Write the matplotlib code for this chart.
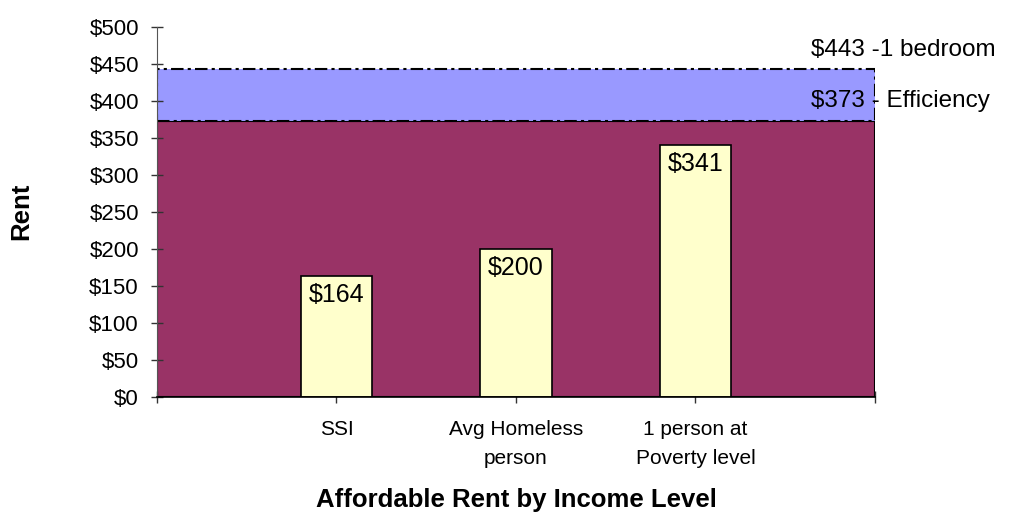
import matplotlib

matplotlib.use('Agg')
import matplotlib.pyplot as plt
from matplotlib.patches import Rectangle

categories = ['SSI', 'Avg Homeless\nperson', '1 person at\nPoverty level']
rents = [164, 200, 341]
efficiency = 373
one_bedroom = 443
yticks = [0, 50, 100, 150, 200, 250, 300, 350, 400, 450, 500]

plt.rcParams['font.family'] = ['Liberation Sans', 'DejaVu Sans']

fig = plt.figure(figsize=(10.18, 5.13), dpi=100)
ax = fig.add_axes([0.1542, 0.2261, 0.7053, 0.7213])

# background areas (efficiency / 1 bedroom rents)
ax.add_patch(Rectangle((0, 0), 4, efficiency, facecolor='#993366',
                       edgecolor='black', linewidth=1.5, zorder=1))
ax.add_patch(Rectangle((0, efficiency), 4, one_bedroom - efficiency,
                       facecolor='#9999FF', edgecolor='black',
                       linewidth=1.5, linestyle=(0, (6, 2, 1.5, 2)), zorder=1))

x = [1, 2, 3]
ax.bar(x, rents, width=0.4, color='#FFFFCC', edgecolor='black',
       linewidth=1.2, zorder=2)
for xi, v in zip(x, rents):
    ax.annotate('${}'.format(v), (xi, v), xytext=(0, -5),
                textcoords='offset points', ha='center', va='top',
                fontsize=18, zorder=3)

ax.text(3.643, 469, '${} -1 bedroom'.format(one_bedroom), ha='left',
        va='center', fontsize=17.5, clip_on=False)
ax.text(3.643, 400, '${} - Efficiency'.format(efficiency), ha='left',
        va='center', fontsize=17.5, clip_on=False)

ax.set_xlim(0, 4)
ax.set_ylim(0, 500)
ax.set_xticks([0, 1, 2, 3, 4])
ax.set_xticklabels([''] + categories + [''], fontsize=15, linespacing=1.7,
                   va='top')
ax.set_yticks(yticks)
ax.set_yticklabels(['${}'.format(v) for v in yticks], fontsize=16)
ax.tick_params(direction='inout', length=8, width=1, color='#333333')
ax.tick_params(axis='y', pad=9)
ax.tick_params(axis='x', pad=12.5)

for side in ['top', 'right']:
    ax.spines[side].set_visible(False)
ax.spines['left'].set_color('#555555')
ax.spines['bottom'].set_color('black')
ax.spines['bottom'].set_linewidth(1.2)

ax.set_xlabel('Affordable Rent by Income Level', fontsize=18.5,
              fontweight='bold')
ax.xaxis.set_label_coords(0.5, -0.246)
ax.set_ylabel('Rent', fontsize=18.5, fontweight='bold')
ax.yaxis.set_label_coords(-0.173, 0.503)

fig.savefig('out.png', dpi=100)
